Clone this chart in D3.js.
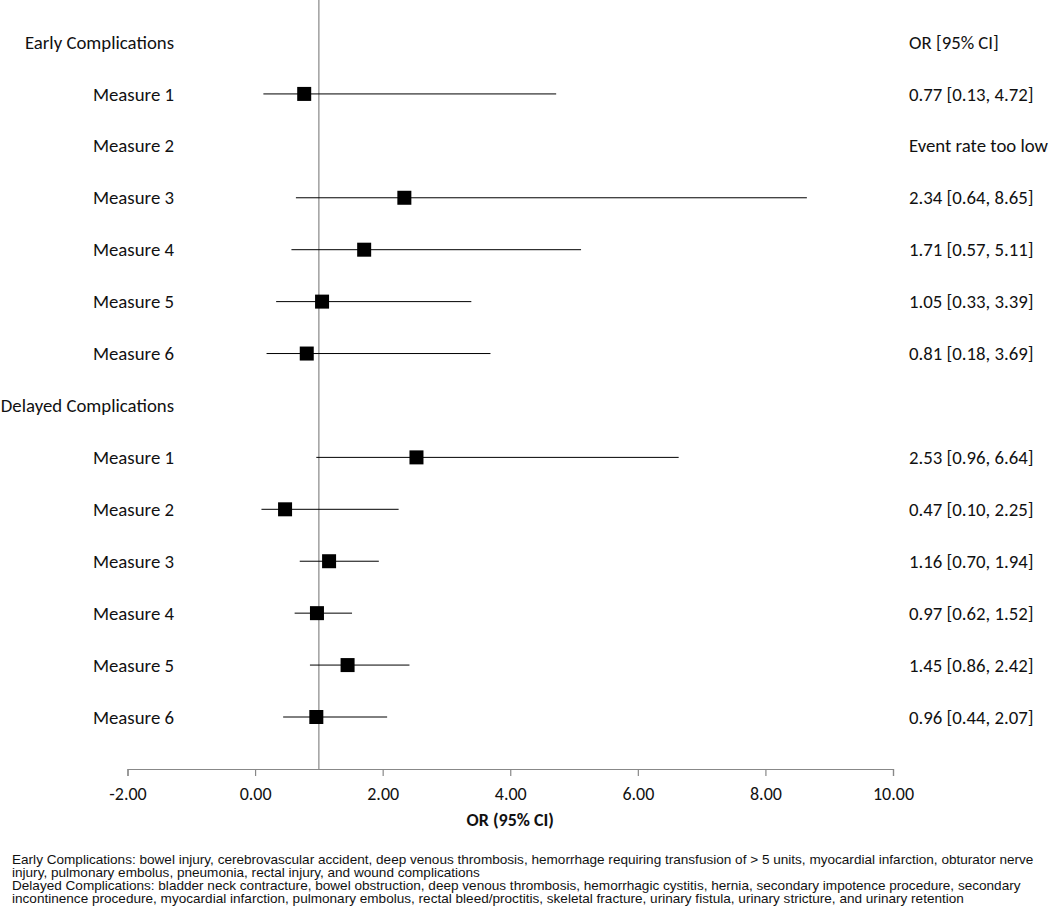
<!DOCTYPE html>
<html><head><meta charset="utf-8">
<script src="https://cdn.jsdelivr.net/npm/d3@7"></script>
<style>
body{margin:0;background:#fff;}
svg{display:block;}
.lbl{font-family:Carlito,Lato,sans-serif;font-size:18.8px;fill:#111;}
.foot{font-family:"Liberation Sans",Arial,sans-serif;font-size:13px;fill:#111;}
</style></head>
<body>
<script>
const rowLabels = ["Early Complications","Measure 1","Measure 2","Measure 3","Measure 4","Measure 5","Measure 6",
  "Delayed Complications","Measure 1","Measure 2","Measure 3","Measure 4","Measure 5","Measure 6"];
const orValues = [null,0.77,null,2.34,1.71,1.05,0.81,null,2.53,0.47,1.16,0.97,1.45,0.96];
const ciLow    = [null,0.13,null,0.64,0.57,0.33,0.18,null,0.96,0.10,0.70,0.62,0.86,0.44];
const ciHigh   = [null,4.72,null,8.65,5.11,3.39,3.69,null,6.64,2.25,1.94,1.52,2.42,2.07];
const rightText = ["OR [95% CI]","0.77 [0.13, 4.72]","Event rate too low","2.34 [0.64, 8.65]","1.71 [0.57, 5.11]",
  "1.05 [0.33, 3.39]","0.81 [0.18, 3.69]","","2.53 [0.96, 6.64]","0.47 [0.10, 2.25]","1.16 [0.70, 1.94]",
  "0.97 [0.62, 1.52]","1.45 [0.86, 2.42]","0.96 [0.44, 2.07]"];
const xTicks = [-2,0,2,4,6,8,10];
const refValue = 1;
const footnotes = [
 "Early Complications: bowel injury, cerebrovascular accident, deep venous thrombosis, hemorrhage requiring transfusion of > 5 units, myocardial infarction, obturator nerve",
 "injury, pulmonary embolus, pneumonia, rectal injury, and wound complications",
 "Delayed Complications: bladder neck contracture, bowel obstruction, deep venous thrombosis, hemorrhagic cystitis, hernia, secondary impotence procedure, secondary",
 "incontinence procedure, myocardial infarction, pulmonary embolus, rectal bleed/proctitis, skeletal fracture, urinary fistula, urinary stricture, and urinary retention"
];

const W=1050,H=914;
const svg=d3.select("body").append("svg").attr("width",W).attr("height",H);
const x=d3.scaleLinear().domain([-2,10]).range([127.5,893]);
const y=d3.scalePoint().domain(d3.range(rowLabels.length)).range([42,717]);
const axisY=769;

// reference line
svg.append("line").attr("x1",x(refValue)).attr("x2",x(refValue)).attr("y1",0).attr("y2",axisY)
  .attr("stroke","#888").attr("stroke-width",1.2);

// axis
const fmt=d3.format(".2f");
const ax=svg.append("g").attr("transform",`translate(0,${axisY})`)
  .call(d3.axisBottom(x).tickValues(xTicks).tickSize(7).tickPadding(11)
    .tickFormat(d=>fmt(d).replace("\u2212","-")));
ax.select(".domain").attr("stroke","#888").attr("stroke-width",1.2);
ax.selectAll(".tick line").attr("stroke","#888").attr("stroke-width",1.2);
ax.selectAll(".tick text").attr("class","lbl").style("font-size","18px").attr("fill","#111");
svg.append("text").attr("class","lbl").attr("x",x(4)).attr("y",826).attr("text-anchor","middle")
  .style("font-weight","bold").style("font-size","18px").text("OR (95% CI)");

// rows
const idx=d3.range(rowLabels.length);
svg.selectAll("text.rl").data(idx).join("text").attr("class","lbl rl")
  .attr("x",174).attr("y",i=>y(i)).attr("dy","0.35em").attr("text-anchor","end").text(i=>rowLabels[i]);
svg.selectAll("text.rt").data(idx).join("text").attr("class","lbl rt")
  .attr("x",909).attr("y",i=>y(i)).attr("dy","0.35em").text(i=>rightText[i]);

const pts=idx.filter(i=>orValues[i]!=null);
svg.selectAll("line.ci").data(pts).join("line").attr("class","ci")
  .attr("x1",i=>x(ciLow[i])).attr("x2",i=>x(ciHigh[i])).attr("y1",i=>y(i)).attr("y2",i=>y(i))
  .attr("stroke","#000").attr("stroke-width",1);
const s=14;
svg.selectAll("rect.pt").data(pts).join("rect").attr("class","pt")
  .attr("x",i=>x(orValues[i])-s/2).attr("y",i=>y(i)-s/2).attr("width",s).attr("height",s).attr("fill","#000");

// footnotes
const fy=[864,877,890,903];
svg.selectAll("text.foot").data(footnotes).join("text").attr("class","foot")
  .attr("transform",(d,i)=>`translate(12,${fy[i]}) scale(1.045,1)`).text(d=>d);
</script>
</body></html>
